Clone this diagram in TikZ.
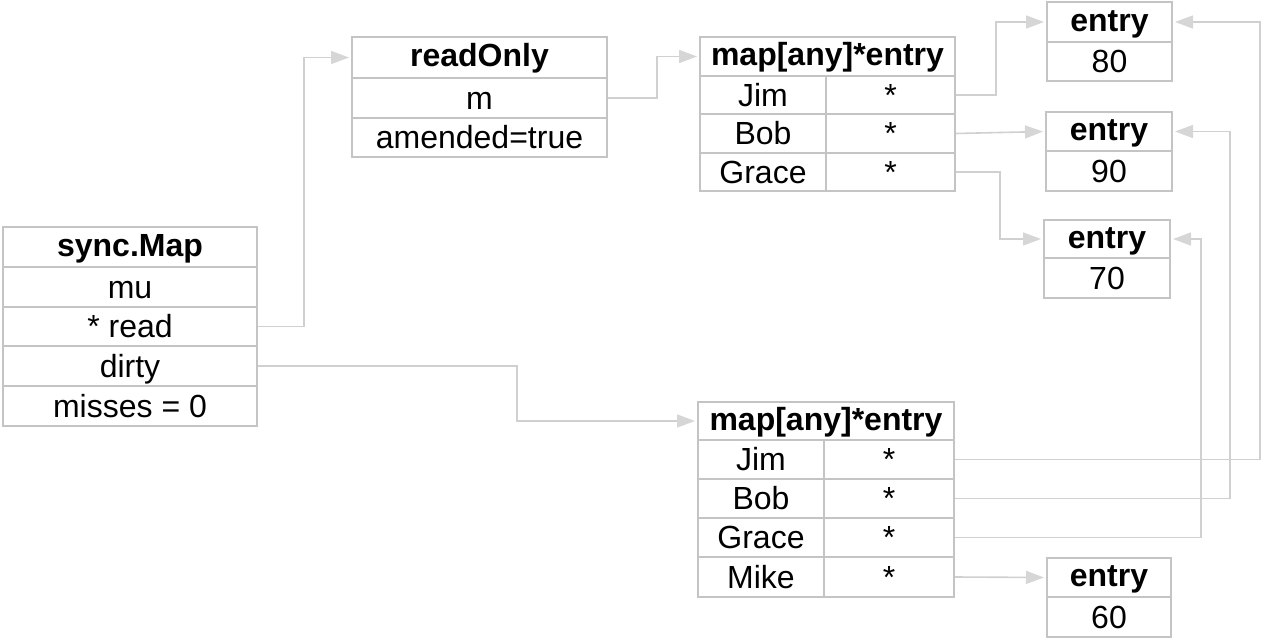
\documentclass[tikz,border=0pt]{standalone}
\usepackage{fontspec}
\setmainfont{Liberation Sans}
\usetikzlibrary{arrows.meta}
\definecolor{boxgray}{HTML}{C4C4C4}
\definecolor{linegray}{HTML}{D0D0D0}
\definecolor{tipgray}{HTML}{D6D6D6}
\begin{document}
\begin{tikzpicture}[x=1pt,y=-1pt,
  cell/.style={draw=boxgray, line width=2pt, inner sep=0pt, text=black,
    font=\fontsize{32}{38}\selectfont, text height=22pt, text depth=0pt},
  hcell/.style={cell, font=\fontsize{32}{38}\selectfont\bfseries, text height=18pt},
  conn/.style={draw=linegray, line width=1.6pt,
    -{Triangle[length=18pt,width=13pt,fill=tipgray,color=tipgray]}, shorten >=2pt},
]
\useasboundingbox (0,0) rectangle (1264,640);

% sync.Map
\node[hcell, minimum width=254pt, minimum height=40pt] (smh) at (130,247) {sync.Map};
\node[cell, minimum width=254pt, minimum height=40pt] (smmu) at (130,287) {mu};
\node[cell, minimum width=254pt, minimum height=39pt] (smread) at (130,326.5) {* read};
\node[cell, minimum width=254pt, minimum height=40pt] (smdirty) at (130,366) {dirty};
\node[cell, minimum width=254pt, minimum height=40pt] (smmiss) at (130,406) {misses = 0};

% readOnly
\node[hcell, minimum width=255pt, minimum height=41pt] (roh) at (479.5,57.5) {readOnly};
\node[cell, minimum width=255pt, minimum height=40pt] (rom) at (479.5,98) {m};
\node[cell, minimum width=255pt, minimum height=39pt] (roam) at (479.5,137.5) {amended=true};

% map 1
\node[hcell, minimum width=255pt, minimum height=39pt] (mah) at (827.5,56.5) {map[any]*entry};
\node[cell, minimum width=126pt, minimum height=38pt] (majk) at (763,95) {Jim};
\node[cell, minimum width=129pt, minimum height=38pt] (majv) at (890.5,95) {*};
\node[cell, minimum width=126pt, minimum height=39pt] (mabk) at (763,133.5) {Bob};
\node[cell, minimum width=129pt, minimum height=39pt] (mabv) at (890.5,133.5) {*};
\node[cell, minimum width=126pt, minimum height=38pt] (magk) at (763,172) {Grace};
\node[cell, minimum width=129pt, minimum height=38pt] (magv) at (890.5,172) {*};

% map 2
\node[hcell, minimum width=256pt, minimum height=38pt] (mbh) at (826,421) {map[any]*entry};
\node[cell, minimum width=126pt, minimum height=39pt] (mbjk) at (761,459.5) {Jim};
\node[cell, minimum width=130pt, minimum height=39pt] (mbjv) at (889,459.5) {*};
\node[cell, minimum width=126pt, minimum height=39pt] (mbbk) at (761,498.5) {Bob};
\node[cell, minimum width=130pt, minimum height=39pt] (mbbv) at (889,498.5) {*};
\node[cell, minimum width=126pt, minimum height=39pt] (mbgk) at (761,537.5) {Grace};
\node[cell, minimum width=130pt, minimum height=39pt] (mbgv) at (889,537.5) {*};
\node[cell, minimum width=126pt, minimum height=40pt] (mbmk) at (761,577) {Mike};
\node[cell, minimum width=130pt, minimum height=40pt] (mbmv) at (889,577) {*};

% entries
\node[hcell, minimum width=125pt, minimum height=40pt] (e80h) at (1109.5,22) {entry};
\node[cell, minimum width=125pt, minimum height=39pt] (e80v) at (1109.5,61.5) {80};
\node[hcell, minimum width=126pt, minimum height=39pt] (e90h) at (1109,131.5) {entry};
\node[cell, minimum width=126pt, minimum height=40pt] (e90v) at (1109,171) {90};
\node[hcell, minimum width=126pt, minimum height=38pt] (e70h) at (1107,239) {entry};
\node[cell, minimum width=126pt, minimum height=40pt] (e70v) at (1107,278) {70};
\node[hcell, minimum width=124pt, minimum height=39pt] (e60h) at (1109,577.5) {entry};
\node[cell, minimum width=124pt, minimum height=40pt] (e60v) at (1109,617) {60};

% bend coordinates
\coordinate (k1) at (304,0);
\coordinate (k2) at (657,0);
\coordinate (k3) at (517,0);
\coordinate (k4) at (996,0);
\coordinate (k5) at (1000,0);
\coordinate (k6) at (1260,0);
\coordinate (k7) at (1230,0);
\coordinate (k8) at (1201,0);

% connectors
\draw[conn] (smread.east) -- (smread.east -| k1) |- (roh.west);
\draw[conn] (rom.east) -- (rom.east -| k2) |- (mah.west);
\draw[conn] (smdirty.east) -- (smdirty.east -| k3) |- (mbh.west);
\draw[conn] (majv.east) -- (majv.east -| k4) |- (e80h.west);
\draw[conn] (mabv.east) -- (e90h.west);
\draw[conn] (magv.east) -- (magv.east -| k5) |- (e70h.west);
\draw[conn] (mbjv.east) -- (mbjv.east -| k6) |- (e80h.east);
\draw[conn] (mbbv.east) -- (mbbv.east -| k7) |- (e90h.east);
\draw[conn] (mbgv.east) -- (mbgv.east -| k8) |- (e70h.east);
\draw[conn] (mbmv.east) -- (e60h.west);
\end{tikzpicture}
\end{document}
